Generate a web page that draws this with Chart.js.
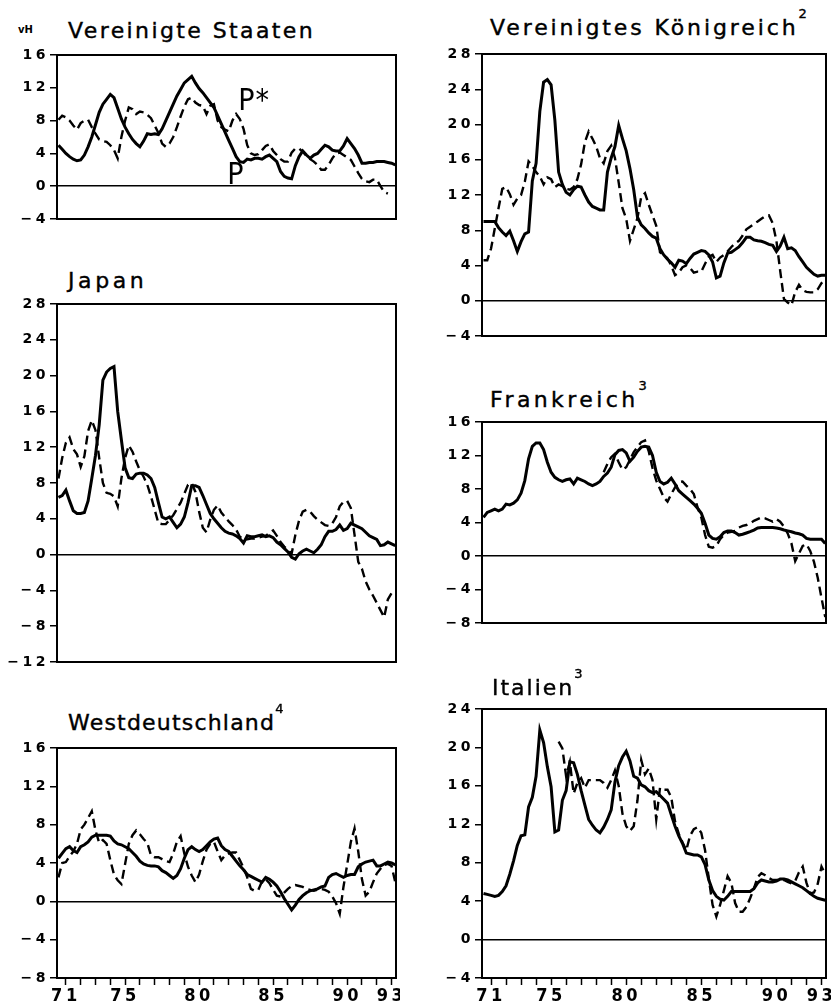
<!DOCTYPE html>
<html>
<head>
<meta charset="utf-8">
<script src="https://cdn.jsdelivr.net/npm/chart.js@4.4.1/dist/chart.umd.min.js"></script>
<style>
  body { margin: 0; background: #fff; }
  #page { position: relative; width: 831px; height: 1008px; overflow: hidden; font-family: 'DejaVu Sans', sans-serif; color: #000; }
  .panel { position: absolute; }
  .title { position: absolute; font-size: 22px; line-height: 21px; white-space: nowrap; -webkit-text-stroke: 0.4px #000; }
  .title sup { font-size: 13px; line-height: 13px; vertical-align: top; position: relative; top: -10px; letter-spacing: 0; }
  #unit { position: absolute; left: 18px; top: 24px; font-size: 10px; font-weight: bold; }
</style>
</head>
<body>
<div id="page">
  <div class="panel" style="left:0; top:45px; width:400px; height:214px"><canvas id="c-us"></canvas></div>
  <div class="panel" style="left:0; top:294px; width:400px; height:408px"><canvas id="c-jp"></canvas></div>
  <div class="panel" style="left:0; top:738px; width:400px; height:270px"><canvas id="c-wd"></canvas></div>
  <div class="panel" style="left:410px; top:44px; width:421px; height:332px"><canvas id="c-uk"></canvas></div>
  <div class="panel" style="left:410px; top:412px; width:421px; height:251px"><canvas id="c-fr"></canvas></div>
  <div class="panel" style="left:410px; top:699px; width:421px; height:309px"><canvas id="c-it"></canvas></div>

  <div id="unit">vH</div>
  <div class="title" style="left:68px; top:20px; letter-spacing:2.4px">Vereinigte Staaten</div>
  <div class="title" style="left:68px; top:270px; letter-spacing:3.6px">Japan</div>
  <div class="title" style="left:68px; top:712px; letter-spacing:1.2px">Westdeutschland<sup>4</sup></div>
  <div class="title" style="left:490px; top:17px; letter-spacing:2.9px">Vereinigtes Königreich<sup>2</sup></div>
  <div class="title" style="left:490px; top:389px; letter-spacing:3.4px">Frankreich<sup>3</sup></div>
  <div class="title" style="left:492px; top:677px; letter-spacing:2.0px">Italien<sup>3</sup></div>
</div>

<script>
// Quartale 1970 Q3 bis 1993 Q2
const quarters = [];
for (let q = 0; q < 92; q++) quarters.push(70.5 + q / 4);

const yearTicks = [];
for (let y = 71; y <= 93; y++) yearTicks.push(y);
const yearLabels = [71, 75, 80, 85, 90, 93];

// Vereinigte Staaten
const usP = [
  5.0, 4.5,
  4.0, 3.6, 3.3, 3.1,   3.2, 3.8, 4.8, 6.0,   7.5, 9.0, 10.0, 10.6,   11.2, 10.8, 9.5, 8.2,
  7.2, 6.4, 5.7, 5.2,   4.8, 5.5, 6.4, 6.3,   6.4, 6.3, 7.0, 8.0,   9.0, 10.0, 11.0, 11.8,
  12.6, 13.0, 13.4, 12.6,   11.9, 11.4, 10.8, 10.2,   9.6, 8.6, 7.6, 6.6,   5.6, 4.6, 3.6, 3.0,
  2.9, 3.3, 3.2, 3.4,   3.4, 3.3, 3.6, 3.8,   3.4, 3.0, 1.8, 1.2,   1.0, 0.9, 2.5, 3.6,
  4.3, 3.8, 3.4, 3.8,   4.0, 4.5, 5.0, 4.8,   4.4, 4.3, 4.3, 4.9,   5.8, 5.2, 4.6, 3.8,
  2.8, 2.8, 2.9, 2.9,   3.0, 3.0, 3.0, 2.9,
  2.8, 2.6
];
const usPStar = [
  8.1, 8.6,
  8.4, 8.0, 7.4, 6.9,   7.7, 8.0, 8.1, 7.2,   6.4, 5.7, 5.5, 5.4,   5.0, 4.4, 3.4, 6.0,
  8.0, 9.6, 9.4, 8.8,   9.1, 9.0, 8.7, 8.3,   7.4, 6.5, 5.2, 4.8,   5.2, 6.0, 7.2, 8.5,
  9.7, 10.6, 10.8, 10.2,   9.9, 9.8, 8.8, 9.8,   10.0, 8.0, 7.2, 6.9,   6.7, 8.0, 8.8, 8.2,
  7.0, 5.0, 4.0, 3.8,   3.9, 4.4, 4.9, 5.1,   4.3, 3.8, 3.3, 3.0,   3.0, 4.1, 4.6, 4.6,
  4.2, 3.7, 3.3, 3.0,   2.6, 2.0, 2.0, 2.6,   3.4, 4.0, 4.1, 3.8,   3.5, 3.2, 2.4, 1.6,
  0.9, 0.6, 0.5, 0.8,   0.8, 0.0, -0.7, -0.9,
  null, null
];
const usTicks = [-4, 0, 4, 8, 12, 16];

// Japan
const jpP = [
  6.4, 6.6,
  7.2, 6.0, 4.9, 4.6,   4.6, 4.7, 6.0, 8.5,   11.1, 14.5, 19.5, 20.4,   20.8, 21.0, 16.0, 12.8,
  9.7, 8.6, 8.5, 9.0,   9.1, 9.1, 8.9, 8.5,   7.5, 5.8, 4.2, 4.0,   4.2, 3.6, 3.0, 3.4,
  4.2, 5.8, 7.7, 7.7,   7.5, 6.6, 5.6, 4.6,   4.0, 3.5, 3.0, 2.6,   2.4, 2.3, 2.1, 1.8,
  1.3, 2.1, 2.0, 2.0,   2.1, 2.2, 2.0, 2.1,   1.9, 1.4, 1.1, 0.7,   0.3, -0.3, -0.5, 0.1,
  0.4, 0.6, 0.4, 0.2,   0.6, 1.1, 2.0, 2.6,   2.6, 2.8, 3.3, 2.7,   2.9, 3.5, 3.3, 3.1,
  2.9, 2.5, 2.1, 1.9,   1.7, 1.0, 1.1, 1.4,
  1.2, 1.0
];
const jpPStar = [
  8.5, 10.8,
  12.5, 13.1, 11.8, 11.2,   9.8, 11.0, 13.8, 15.0,   13.9, 10.8, 8.0, 6.9,   6.8, 6.5, 5.4, 8.5,
  10.8, 12.2, 11.5, 10.4,   9.4, 8.7, 7.8, 6.5,   5.0, 3.5, 3.4, 3.4,   3.9, 4.4, 5.1, 5.8,
  6.8, 7.8, 8.0, 7.0,   4.8, 3.0, 2.5, 3.9,   5.0, 5.5, 4.7, 4.2,   3.7, 3.3, 2.8, 2.0,
  1.7, 1.7, 1.8, 1.8,   1.9, 2.0, 2.1, 2.4,   2.7, 2.1, 1.4, 0.9,   0.5, 0.1, 2.2, 3.8,
  4.8, 5.0, 4.8, 4.3,   3.9, 3.6, 3.3, 3.2,   3.5, 4.2, 5.4, 5.9,   6.0, 5.2, 2.2, -0.8,
  -1.6, -3.0, -3.9, -4.6,   -5.4, -6.2, -7.0, -5.0,
  -4.3, -4.0
];
const jpTicks = [-12, -8, -4, 0, 4, 8, 12, 16, 20, 24, 28];

// Westdeutschland
const wdP = [
  4.5, 5.0,
  5.5, 5.7, 5.3, 5.1,   5.7, 5.9, 6.2, 6.7,   6.9, 6.9, 6.9, 6.9,   6.8, 6.3, 6.0, 5.9,
  5.7, 5.5, 5.1, 4.7,   4.2, 3.9, 3.75, 3.7,   3.7, 3.6, 3.2, 3.0,   2.7, 2.4, 2.7, 3.4,
  4.5, 5.4, 5.7, 5.4,   5.2, 5.4, 5.8, 6.2,   6.5, 6.6, 5.8, 5.4,   5.2, 4.7, 4.2, 3.7,
  3.3, 2.8, 2.6, 2.4,   2.2, 2.0, 2.5, 2.3,   2.0, 1.6, 1.0, 0.3,   -0.3, -0.9, -0.4, 0.2,
  0.6, 0.9, 1.1, 1.2,   1.3, 1.5, 1.6, 2.5,   2.8, 2.9, 2.7, 2.5,   2.7, 2.8, 2.8, 3.6,
  3.9, 4.1, 4.2, 4.3,   3.7, 3.7, 3.9, 4.1,
  4.0, 3.8
];
const wdPStar = [
  2.5, 4.0,
  4.1, 4.7, 5.2, 6.0,   7.5, 8.0, 8.7, 9.4,   7.4, 6.1, 6.4, 6.0,   4.3, 2.8, 2.2, 1.8,
  3.9, 6.0, 6.9, 7.4,   7.0, 6.5, 6.1, 4.8,   4.6, 4.6, 4.4, 4.2,   4.1, 5.0, 6.2, 6.8,
  5.0, 3.6, 2.7, 2.0,   2.8, 4.2, 5.4, 6.0,   6.2, 5.2, 4.3, 4.8,   5.0, 5.1, 5.1, 4.3,
  3.5, 2.5, 1.3, 1.1,   1.2, 2.1, 2.3, 1.9,   1.2, 0.6, 0.5, 0.9,   1.3, 1.6, 1.7, 1.6,
  1.5, 1.3, 1.2, 1.1,   1.2, 1.3, 1.2, 1.0,   0.5, -0.2, -1.3, 1.5,   3.8, 6.2, 7.6, 5.2,
  2.3, 0.6, 1.0, 2.0,   2.9, 3.4, 3.8, 3.9,
  3.7, 2.0
];
const wdTicks = [-8, -4, 0, 4, 8, 12, 16];

// Vereinigtes Königreich
const ukP = [
  9.0, 9.0,
  9.0, 9.0, 8.3, 7.8,   7.4, 7.9, 6.8, 5.6,   6.7, 7.6, 7.8, 13.6,   15.6, 21.5, 24.8, 25.1,
  24.5, 20.5, 14.6, 13.2,   12.3, 12.0, 12.6, 13.0,   12.9, 12.0, 11.2, 10.7,   10.5, 10.3, 10.3, 14.6,
  16.2, 17.5, 19.9, 18.4,   17.0, 15.0, 12.6, 9.5,   8.6, 8.2, 7.7, 7.3,   7.1, 5.9, 5.2, 4.7,
  4.3, 3.8, 4.6, 4.5,   4.2, 4.8, 5.3, 5.5,   5.7, 5.6, 5.2, 4.4,   2.6, 2.8, 4.3, 5.4,
  5.5, 5.8, 6.1, 6.6,   7.2, 7.2, 6.9, 6.8,   6.75, 6.6, 6.4, 6.3,   5.6, 6.2, 7.2, 5.9,
  6.0, 5.7, 5.0, 4.4,   3.8, 3.4, 3.0, 2.8,
  2.9, 2.9
];
const ukPStar = [
  4.6, 4.6,
  5.9, 8.2, 10.5, 12.7,   12.9, 12.1, 10.9, 11.6,   12.0, 13.5, 15.8, 15.3,   14.6, 14.1, 13.2, 14.0,
  13.8, 12.9, 13.2, 13.0,   12.7, 12.6, 12.9, 13.8,   15.5, 18.0, 19.2, 18.4,   17.5, 16.2, 15.6, 17.0,
  17.6, 16.2, 13.4, 10.5,   9.3, 6.8, 8.1, 9.4,   11.8, 12.2, 10.9, 9.7,   8.5, 5.5, 5.2, 4.8,
  4.0, 2.9, 3.2, 3.8,   4.0, 3.7, 3.2, 3.3,   3.3, 4.2, 5.0, 5.2,   4.4, 4.9, 5.2, 5.6,
  6.1, 6.5, 6.8, 7.4,   8.1, 8.4, 8.7, 9.0,   9.3, 9.6, 9.7, 8.8,   6.8, 3.4, 0.2, -0.2,
  -0.5, 1.0, 1.8, 1.2,   1.0, 0.95, 0.95, 1.3,
  2.0, 2.3
];
const ukTicks = [-4, 0, 4, 8, 12, 16, 20, 24, 28];

// Frankreich
const frP = [
  4.6, 5.2,
  5.4, 5.6, 5.4, 5.6,   6.2, 6.1, 6.3, 6.7,   7.5, 9.0, 11.6, 13.1,   13.5, 13.5, 12.7, 11.2,
  10.0, 9.4, 9.1, 8.9,   9.1, 9.2, 8.6, 9.3,   9.1, 8.9, 8.6, 8.4,   8.6, 8.9, 9.5, 9.9,
  10.6, 12.1, 12.6, 12.7,   12.3, 11.3, 11.8, 12.5,   13.0, 13.1, 13.0, 12.0,   10.0, 8.9, 8.6, 8.8,
  9.3, 8.6, 7.8, 7.4,   7.0, 6.6, 6.2, 5.7,   5.1, 3.9, 2.5, 2.1,   2.0, 2.3, 2.8, 3.0,
  3.0, 2.8, 2.5, 2.6,   2.75, 2.9, 3.1, 3.35,   3.4, 3.4, 3.4, 3.4,   3.35, 3.25, 3.1, 3.0,
  2.9, 2.75, 2.65, 2.5,   2.1, 2.0, 2.0, 2.0,
  2.0, 1.5
];
const frPStar = [
  null, null,
  null, null, null, null,   null, null, null, null,   null, null, null, null,   null, null, null, null,
  null, null, null, null,   null, null, null, null,   null, null, null, null,   null, null, 10.0, 11.0,
  11.8, 12.2, 11.2, 10.3,   10.6, 11.5, 12.4, 13.0,   13.6, 13.8, 12.5, 10.5,   9.0, 8.0, 7.0, 6.5,
  7.4, 8.2, 8.8, 8.9,   8.4, 8.0, 7.4, 5.8,   4.6, 2.5, 1.1, 1.0,   1.2, 2.0, 2.5, 2.8,
  2.9, 3.0, 3.4, 3.6,   3.7, 3.9, 4.2, 4.4,   4.6, 4.5, 4.3, 4.1,   4.4, 4.1, 3.5, 2.7,
  1.5, -0.6, 0.3, 1.2,   1.4, 0.6, -0.7, -2.6,
  -5.0, -7.3
];
const frTicks = [-8, -4, 0, 4, 8, 12, 16];

// Italien
const itP = [
  4.8, 4.7,
  4.6, 4.5, 4.6, 5.0,   5.6, 6.8, 8.2, 9.8,   10.8, 10.9, 13.8, 14.8,   17.0, 21.8, 20.5, 18.0,
  15.9, 11.2, 11.4, 14.5,   15.5, 18.5, 18.4, 17.2,   15.5, 14.0, 12.5, 11.9,   11.4, 11.1, 11.7, 12.5,
  13.5, 16.4, 18.1, 19.0,   19.6, 18.6, 17.0, 16.8,   16.1, 15.9, 15.5, 15.3,   15.4, 15.0, 14.6, 14.2,
  13.0, 11.8, 10.8, 10.0,   9.0, 8.9, 8.8, 8.8,   8.6, 7.8, 6.2, 5.1,   4.5, 4.2, 4.1, 4.5,
  5.0, 5.0, 5.0, 5.0,   5.0, 5.0, 5.3, 5.9,   6.2, 6.1, 6.0, 6.0,   6.1, 6.3, 6.3, 6.2,
  6.0, 5.8, 5.6, 5.4,   5.1, 4.8, 4.5, 4.3,
  4.2, 4.1
];
const itPStar = [
  null, null,
  null, null, null, null,   null, null, null, null,   null, null, null, null,   null, null, null, null,
  null, null, 20.6, 19.9,   17.0, 18.5, 15.2, 16.3,   16.8, 15.8, 16.6, 16.6,   16.6, 16.6, 16.3, 15.8,
  16.6, 17.6, 16.0, 13.1,   11.8, 11.3, 11.8, 14.5,   18.7, 17.2, 17.8, 16.6,   12.5, 15.8, 15.6, 15.6,
  14.8, 12.3, 11.0, 10.1,   9.3, 10.8, 11.5, 11.7,   11.1, 9.3, 6.3, 3.6,   2.4, 3.6, 5.1, 6.6,
  5.9, 3.8, 2.9, 2.9,   3.4, 4.3, 5.3, 6.5,   6.9, 6.7, 6.4, 6.2,   6.2, 6.2, 6.2, 6.0,
  5.85, 6.1, 7.0, 7.6,   5.9, 4.8, 4.9, 5.8,
  7.6, 6.8
];
const itTicks = [-4, 0, 4, 8, 12, 16, 20, 24];

// Rahmen um die Zeichenfläche, Beschriftung P / P*
const framePlugin = {
  id: 'frame',
  beforeDraw(chart) {
    chart.ctx.letterSpacing = '3.5px';
  },
  afterDatasetsDraw(chart, args, opts) {
    const ctx = chart.ctx;
    const a = chart.chartArea;
    ctx.save();
    ctx.strokeStyle = '#000';
    ctx.lineWidth = 2;
    ctx.strokeRect(a.left, a.top, a.right - a.left, a.bottom - a.top);
    (opts.notes || []).forEach(n => {
      ctx.font = "30px 'Liberation Sans Narrow', 'DejaVu Sans Condensed', sans-serif";
      ctx.letterSpacing = '1px';
      ctx.fillStyle = '#000';
      ctx.textAlign = 'left';
      ctx.textBaseline = 'alphabetic';
      ctx.fillText(n.text, chart.scales.x.getPixelForValue(n.x), chart.scales.y.getPixelForValue(n.y));
    });
    ctx.restore();
  }
};

const points = vals => vals.map((v, i) => ({ x: quarters[i], y: v }));

function makePanel(id, p, pStar, yMin, yMax, yTicks, opts) {
  const right = opts.right;
  new Chart(document.getElementById(id), {
    type: 'line',
    data: {
      datasets: [
        { label: 'P', data: points(p), borderColor: '#000', borderWidth: 3, pointRadius: 0, tension: 0 },
        { label: 'P*', data: points(pStar), borderColor: '#000', borderWidth: 2.4, borderDash: [9, 5], pointRadius: 0, tension: 0 }
      ]
    },
    options: {
      responsive: true,
      maintainAspectRatio: false,
      animation: false,
      events: [],
      layout: { padding: { top: 10, right: right ? 5 : 4, bottom: opts.xAxis ? 0 : 10, left: 0 } },
      plugins: {
        legend: { display: false },
        tooltip: { enabled: false },
        frame: { notes: opts.notes || [] }
      },
      scales: {
        x: {
          type: 'linear',
          min: 70.4,
          max: 93.3,
          display: !!opts.xAxis,
          afterBuildTicks: s => { s.ticks = yearTicks.map(v => ({ value: v })); },
          afterFit: s => { s.height = 30; s.paddingLeft = 0; s.paddingRight = 0; },
          border: { display: false },
          grid: { drawOnChartArea: false, drawTicks: true, tickLength: 7, tickColor: '#000', tickWidth: 1.5 },
          ticks: {
            autoSkip: false,
            maxRotation: 0,
            padding: 1,
            color: '#000',
            font: { family: "'Liberation Sans Narrow', 'DejaVu Sans Condensed', sans-serif", size: 18, weight: 'bold' },
            callback: v => yearLabels.includes(v) ? String(v) : ''
          }
        },
        y: {
          min: yMin,
          max: yMax,
          afterBuildTicks: s => { s.ticks = yTicks.map(v => ({ value: v })); },
          afterFit: s => { s.width = right ? 72 : 57; s.paddingTop = 0; s.paddingBottom = 0; },
          border: { display: false },
          grid: {
            color: c => (c.tick && c.tick.value === 0) ? '#000' : 'rgba(0,0,0,0)',
            lineWidth: 1.5,
            drawTicks: true,
            tickLength: 7,
            tickColor: '#000',
            tickWidth: 1.5
          },
          ticks: {
            padding: 1,
            color: '#000',
            font: { family: "'DejaVu Sans', sans-serif", size: 14, weight: 'bold' },
            callback: v => v < 0 ? '\u2212' + (-v) : String(v)
          }
        }
      }
    },
    plugins: [framePlugin]
  });
}

makePanel('c-us', usP, usPStar, -4, 16, usTicks, {
  notes: [{ text: 'P*', x: 82.64, y: 9.3 }, { text: 'P', x: 81.9, y: 0.3 }]
});
makePanel('c-jp', jpP, jpPStar, -12, 28, jpTicks, {});
makePanel('c-wd', wdP, wdPStar, -8, 16, wdTicks, { xAxis: true });
makePanel('c-uk', ukP, ukPStar, -4, 28, ukTicks, { right: true });
makePanel('c-fr', frP, frPStar, -8, 16, frTicks, { right: true });
makePanel('c-it', itP, itPStar, -4, 24, itTicks, { right: true, xAxis: true });
</script>
</body>
</html>
